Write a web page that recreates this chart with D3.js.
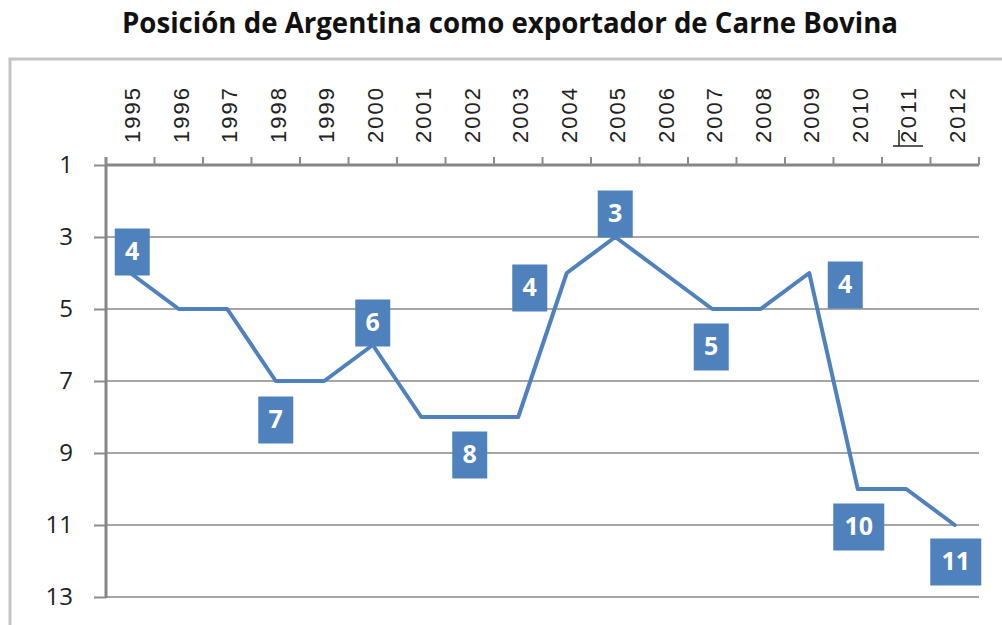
<!DOCTYPE html>
<html>
<head>
<meta charset="utf-8">
<script src="https://cdn.jsdelivr.net/npm/d3@7"></script>
<style>
  html, body { margin: 0; padding: 0; background: #fff; }
  svg { display: block; }
</style>
</head>
<body>
<svg id="chart" width="1002" height="625"></svg>
<script>
// ---- Data ----
const years = ["1995","1996","1997","1998","1999","2000","2001","2002","2003","2004","2005","2006","2007","2008","2009","2010","2011","2012"];
const positions = [4,5,5,7,7,6,8,8,8,4,3,4,5,5,4,10,10,11];
const labeledYears = ["1995","1998","2000","2002","2004","2005","2007","2009","2010","2012"];
const yTicks = [1,3,5,7,9,11,13];
const title = "Posición de Argentina como exportador de Carne Bovina";

// label placement (layout only): offset of box centre from the point
const labelOffsets = {
  "1995": [2, -21], "1998": [0, 39], "2000": [0, -22], "2002": [0, 38],
  "2004": [-37, 15], "2005": [0, -23], "2007": [-1, 38], "2009": [36, 12],
  "2010": [1, 38], "2012": [1, 37]
};

const svg = d3.select("#chart");
const blue = "#4F81BD";

// outer chart border
svg.append("rect")
  .attr("x", 10).attr("y", 59).attr("width", 1010).attr("height", 600)
  .attr("fill", "none").attr("stroke", "#c4c4c4").attr("stroke-width", 3);

// title
svg.append("text")
  .attr("x", 122).attr("y", 33)
  .attr("font-family", "'Open Sans', sans-serif")
  .attr("font-weight", "bold").attr("font-size", 28)
  .attr("fill", "#111")
  .attr("textLength", 776).attr("lengthAdjust", "spacingAndGlyphs")
  .text(title);

// scales
const x = d3.scaleBand().domain(years).range([106, 979]).padding(0);
const y = d3.scaleLinear().domain([1, 13]).range([165, 597]);
const cx = d => x(d) + x.bandwidth() / 2;

// gridlines
svg.append("g").selectAll("line").data(yTicks.slice(1)).join("line")
  .attr("x1", 106).attr("x2", 979)
  .attr("y1", d => y(d)).attr("y2", d => y(d))
  .attr("stroke", "#a6a6a6").attr("stroke-width", 2);

// left axis
const yAxis = d3.axisLeft(y).tickValues(yTicks).tickSize(12).tickSizeOuter(0).tickFormat(d3.format("d"));
const gy = svg.append("g").attr("transform", "translate(106,0)").call(yAxis);
gy.select(".domain").remove();
gy.selectAll(".tick line").attr("stroke", "#8c8c8c").attr("stroke-width", 2);
gy.selectAll(".tick text").remove();
svg.append("line").attr("x1", 106).attr("x2", 106).attr("y1", 157).attr("y2", 598)
  .attr("stroke", "#868686").attr("stroke-width", 3);

svg.append("g").selectAll("text").data(yTicks).join("text")
  .attr("x", 73).attr("y", d => y(d) + 2)
  .attr("text-anchor", "end").attr("dominant-baseline", "middle")
  .attr("font-family", "'Open Sans', sans-serif").attr("font-size", 24)
  .attr("fill", "#222")
  .text(d => d);

// top axis
svg.append("line").attr("x1", 106).attr("x2", 979).attr("y1", y(1)).attr("y2", y(1))
  .attr("stroke", "#868686").attr("stroke-width", 3);
const boundaries = years.map(d => x(d)).concat([x(years[years.length - 1]) + x.bandwidth()]);
svg.append("g").selectAll("line").data(boundaries).join("line")
  .attr("x1", d => d).attr("x2", d => d)
  .attr("y1", y(1) - 8).attr("y2", y(1))
  .attr("stroke", "#8c8c8c").attr("stroke-width", 2);

svg.append("g").selectAll("text").data(years).join("text")
  .attr("transform", d => `translate(${cx(d) + 10},143) rotate(-90)`)
  .attr("font-family", "'Liberation Sans', Arial, sans-serif").attr("font-size", 22)
  .attr("fill", "#222")
  .attr("textLength", 55).attr("lengthAdjust", "spacing")
  .text(d => d);

// small cursor-like mark at 2011 label
svg.append("line").attr("x1", 893).attr("x2", 923).attr("y1", 146).attr("y2", 146)
  .attr("stroke", "#222").attr("stroke-width", 1.5);
svg.append("line").attr("x1", 899).attr("x2", 899).attr("y1", 130).attr("y2", 146)
  .attr("stroke", "#222").attr("stroke-width", 1.5);

// series line
const line = d3.line().x((d, i) => cx(years[i])).y(d => y(d));
svg.append("path").datum(positions)
  .attr("d", line)
  .attr("fill", "none").attr("stroke", blue).attr("stroke-width", 4)
  .attr("stroke-linejoin", "round").attr("stroke-linecap", "round");

// data labels
const lg = svg.append("g");
labeledYears.forEach(yr => {
  const i = years.indexOf(yr);
  const v = positions[i];
  const [dx, dy] = labelOffsets[yr];
  const px = cx(yr) + dx, py = y(v) + dy;
  const w = String(v).length > 1 ? 51 : 35;
  const h = 47;
  lg.append("rect").attr("x", px - w / 2).attr("y", py - h / 2)
    .attr("width", w).attr("height", h).attr("fill", blue);
  lg.append("text").attr("x", px).attr("y", py + 1)
    .attr("text-anchor", "middle").attr("dominant-baseline", "middle")
    .attr("font-family", "'Open Sans', sans-serif").attr("font-weight", "bold")
    .attr("font-size", 25).attr("fill", "#fff")
    .text(v);
});
</script>
</body>
</html>
